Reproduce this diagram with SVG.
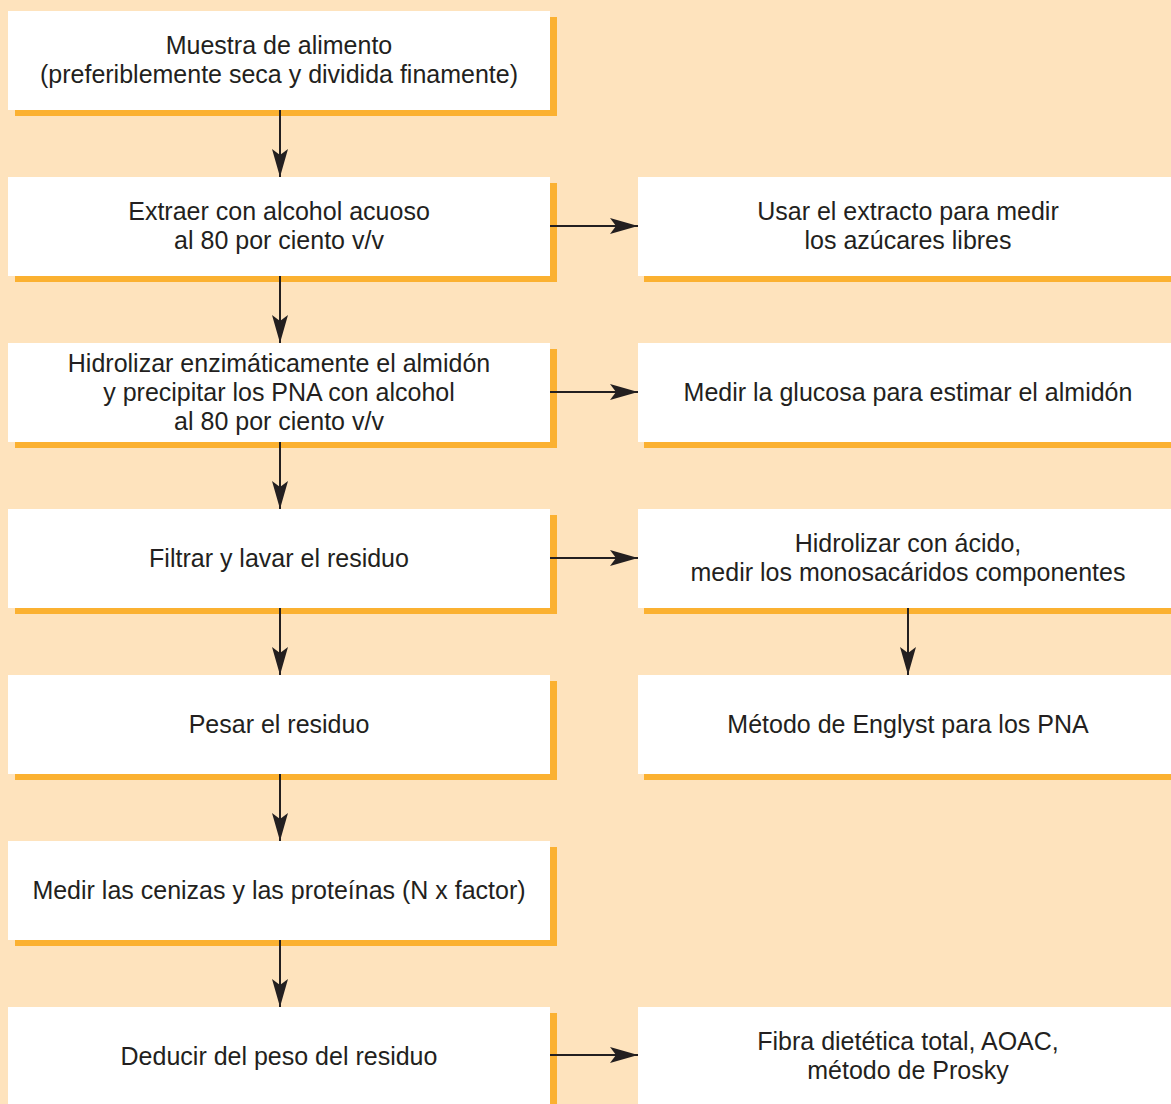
<svg xmlns="http://www.w3.org/2000/svg" width="1171" height="1104" viewBox="0 0 1171 1104">
<style>
.shadow{fill:#FBB131}
.box{fill:#FFFFFF}
text{font-family:"Liberation Sans",Arial,sans-serif;font-size:25px;fill:#231F20;text-anchor:middle}
.conn{stroke:#231F20;stroke-width:2;fill:none}
</style>
<defs>
<marker id="ah" markerUnits="userSpaceOnUse" markerWidth="30" markerHeight="18" refX="28" refY="8" orient="auto">
<path d="M0,0 L28,8 L0,16 L6,8 Z" fill="#231F20"/>
</marker>
</defs>
<rect x="0" y="0" width="1171" height="1104" fill="#FEE3BD"/>
<g id="n1"><rect class="shadow" x="15" y="17" width="542" height="99"/><rect class="box" x="8" y="11" width="542" height="99"/><text x="279" y="54">Muestra de alimento</text><text x="279" y="83">(preferiblemente seca y dividida finamente)</text></g>
<g id="n2"><rect class="shadow" x="15" y="183" width="542" height="99"/><rect class="box" x="8" y="177" width="542" height="99"/><text x="279" y="220">Extraer con alcohol acuoso</text><text x="279" y="249">al 80 por ciento v/v</text></g>
<g id="n3"><rect class="shadow" x="15" y="349" width="542" height="99"/><rect class="box" x="8" y="343" width="542" height="99"/><text x="279" y="372">Hidrolizar enzimáticamente el almidón</text><text x="279" y="401">y precipitar los PNA con alcohol</text><text x="279" y="430">al 80 por ciento v/v</text></g>
<g id="n4"><rect class="shadow" x="15" y="515" width="542" height="99"/><rect class="box" x="8" y="509" width="542" height="99"/><text x="279" y="567">Filtrar y lavar el residuo</text></g>
<g id="n5"><rect class="shadow" x="15" y="681" width="542" height="99"/><rect class="box" x="8" y="675" width="542" height="99"/><text x="279" y="733">Pesar el residuo</text></g>
<g id="n6"><rect class="shadow" x="15" y="847" width="542" height="99"/><rect class="box" x="8" y="841" width="542" height="99"/><text x="279" y="899">Medir las cenizas y las proteínas (N x factor)</text></g>
<g id="n7"><rect class="shadow" x="15" y="1013" width="542" height="99"/><rect class="box" x="8" y="1007" width="542" height="99"/><text x="279" y="1065">Deducir del peso del residuo</text></g>
<g id="r2"><rect class="shadow" x="644" y="183" width="542" height="99"/><rect class="box" x="638" y="177" width="542" height="99"/><text x="908" y="220">Usar el extracto para medir</text><text x="908" y="249">los azúcares libres</text></g>
<g id="r3"><rect class="shadow" x="644" y="349" width="542" height="99"/><rect class="box" x="638" y="343" width="542" height="99"/><text x="908" y="401">Medir la glucosa para estimar el almidón</text></g>
<g id="r4"><rect class="shadow" x="644" y="515" width="542" height="99"/><rect class="box" x="638" y="509" width="542" height="99"/><text x="908" y="552">Hidrolizar con ácido,</text><text x="908" y="581">medir los monosacáridos componentes</text></g>
<g id="r5"><rect class="shadow" x="644" y="681" width="542" height="99"/><rect class="box" x="638" y="675" width="542" height="99"/><text x="908" y="733">Método de Englyst para los PNA</text></g>
<g id="r7"><rect class="shadow" x="644" y="1013" width="542" height="99"/><rect class="box" x="638" y="1007" width="542" height="99"/><text x="908" y="1050">Fibra dietética total, AOAC,</text><text x="908" y="1079">método de Prosky</text></g>
<g id="connectors">
<line class="conn" x1="280" y1="110" x2="280" y2="177" marker-end="url(#ah)"/>
<line class="conn" x1="280" y1="276" x2="280" y2="343" marker-end="url(#ah)"/>
<line class="conn" x1="280" y1="442" x2="280" y2="509" marker-end="url(#ah)"/>
<line class="conn" x1="280" y1="608" x2="280" y2="675" marker-end="url(#ah)"/>
<line class="conn" x1="280" y1="774" x2="280" y2="841" marker-end="url(#ah)"/>
<line class="conn" x1="280" y1="940" x2="280" y2="1007" marker-end="url(#ah)"/>
<line class="conn" x1="550" y1="226" x2="638" y2="226" marker-end="url(#ah)"/>
<line class="conn" x1="550" y1="392" x2="638" y2="392" marker-end="url(#ah)"/>
<line class="conn" x1="550" y1="558" x2="638" y2="558" marker-end="url(#ah)"/>
<line class="conn" x1="550" y1="1055" x2="638" y2="1055" marker-end="url(#ah)"/>
<line class="conn" x1="908" y1="608" x2="908" y2="675" marker-end="url(#ah)"/>
</g>
</svg>
